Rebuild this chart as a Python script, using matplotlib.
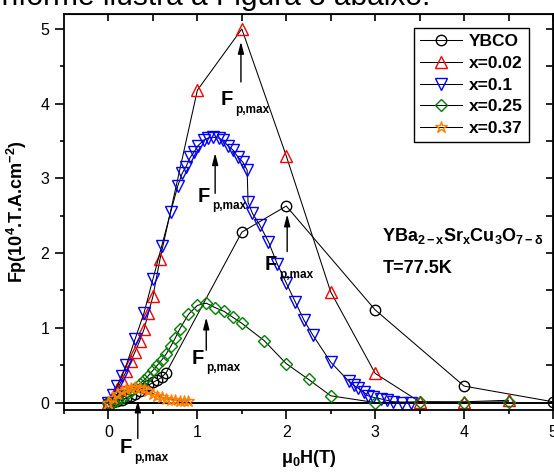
import numpy as np
import matplotlib
matplotlib.use("Agg")
import matplotlib.pyplot as plt
from matplotlib.ticker import MultipleLocator

plt.rcParams["font.family"] = ["Liberation Sans", "DejaVu Sans"]
plt.rcParams["mathtext.fontset"] = "custom"
plt.rcParams["mathtext.rm"] = "Liberation Sans"
plt.rcParams["mathtext.bf"] = "Liberation Sans:bold"
plt.rcParams["mathtext.it"] = "Liberation Sans:italic"

# ---- data (mu0H in T, Fp in 10^4 T.A.cm^-2) ----
ybco_h = [0, 0.05, 0.1, 0.15, 0.2, 0.25, 0.3, 0.35, 0.4, 0.45, 0.5, 0.55, 0.6, 0.65,
          1.5, 2.0, 3.0, 4.0, 5.0]
ybco_fp = [0, 0.01, 0.02, 0.04, 0.06, 0.09, 0.12, 0.15, 0.19, 0.23, 0.27, 0.30, 0.34, 0.40,
           2.28, 2.63, 1.24, 0.22, 0.01]

x002_h = [0, 0.05, 0.1, 0.15, 0.2, 0.25, 0.3, 0.35, 0.4, 0.45, 0.5, 0.58,
          1.0, 1.5, 2.0, 2.5, 3.0, 3.5, 4.0, 4.5]
x002_fp = [0, 0.08, 0.18, 0.3, 0.42, 0.55, 0.68, 0.82, 0.98, 1.2, 1.42, 1.92,
           4.18, 5.0, 3.30, 1.48, 0.39, 0.01, 0.01, 0.03]

x01_h = [0, 0.05, 0.1, 0.15, 0.2, 0.3, 0.4, 0.5, 0.6, 0.7, 0.78,
         0.83, 0.87, 0.92, 0.96, 1.01, 1.07, 1.12, 1.18, 1.24, 1.29, 1.34, 1.40, 1.46,
         1.51, 1.56, 1.57, 1.62, 1.7, 1.8, 1.9, 2.0, 2.1, 2.2, 2.3, 2.5,
         2.7, 2.76, 2.81, 2.87, 2.92, 2.98, 3.06, 3.13, 3.2, 3.3, 3.4]
x01_fp = [0, 0.1, 0.22, 0.35, 0.5, 0.85, 1.2, 1.65, 2.1, 2.55, 2.9,
          3.07, 3.15, 3.28, 3.35, 3.44, 3.51, 3.54, 3.55, 3.54, 3.51, 3.44, 3.38, 3.28,
          3.22, 3.11, 2.68, 2.53, 2.38, 2.15, 1.85, 1.6, 1.35, 1.1, 0.9, 0.54,
          0.29, 0.23, 0.19, 0.14, 0.09, 0.07, 0.05, 0.03, 0.01, 0.0, 0.0]

x025_h = [0, 0.05, 0.1, 0.15, 0.2, 0.25, 0.3, 0.35, 0.4, 0.45, 0.5, 0.55, 0.6, 0.65,
          0.7, 0.75, 0.8, 0.9, 1.0, 1.1, 1.2, 1.3, 1.4, 1.5, 1.75, 2.0, 2.25, 2.5,
          3.0, 3.5, 4.0, 4.5]
x025_fp = [0, 0.01, 0.03, 0.06, 0.1, 0.15, 0.2, 0.25, 0.3, 0.36, 0.43, 0.5, 0.57, 0.65,
           0.75, 0.86, 0.98, 1.18, 1.3, 1.33, 1.27, 1.22, 1.14, 1.06, 0.83, 0.52, 0.31, 0.09,
           0.0, 0.01, 0.0, 0.01]

x037_h = [0, 0.05, 0.1, 0.15, 0.2, 0.25, 0.3, 0.35, 0.4, 0.45, 0.5, 0.55, 0.6, 0.65,
          0.7, 0.75, 0.8, 0.85, 0.9]
x037_fp = [0, 0.06, 0.11, 0.15, 0.18, 0.2, 0.21, 0.2, 0.18, 0.15, 0.12, 0.09, 0.07, 0.05,
           0.04, 0.03, 0.02, 0.02, 0.02]

series = [
    ("YBCO", ybco_h, ybco_fp, "o", "black"),
    ("x=0.02", x002_h, x002_fp, "^", "#FF0000"),
    ("x=0.1", x01_h, x01_fp, "v", "#0000FF"),
    ("x=0.25", x025_h, x025_fp, "D", "#008000"),
    ("x=0.37", x037_h, x037_fp, "*", "#FF8000"),
]
msizes = {"o": 7.5, "^": 8, "v": 8, "D": 6.5, "*": 9}

# arrows: x, start y, tip y ; labels "F p,max": left x and baseline y of the F
arrow_x = [1.49, 1.20, 2.01, 1.10, 0.33]
arrow_y0 = [4.29, 2.80, 2.02, 0.70, -0.48]
arrow_y1 = [4.83, 3.34, 2.52, 1.14, 0.03]
flabel_x = [1.26, 1.00, 1.76, 0.94, 0.13]
flabel_y = [3.98, 2.69, 1.77, 0.52, -0.68]

fig = plt.figure(figsize=(5.54, 4.72), dpi=100)
ax = fig.add_axes([64 / 554, 62 / 472, 489 / 554, 396 / 472])

for name, h, fp, mk, col in series:
    ax.plot(h, fp, color="black", lw=0.75, marker=mk, ms=msizes[mk],
            mfc="none", mec=col, mew=1.0, label=name)

ax.axhline(0, color="black", lw=1.4, zorder=1)

ax.set_xlim(-0.5, 5.0)
ax.set_ylim(-0.1, 5.2)
ax.xaxis.set_major_locator(MultipleLocator(1))
ax.xaxis.set_minor_locator(MultipleLocator(0.5))
ax.yaxis.set_major_locator(MultipleLocator(1))
ax.yaxis.set_minor_locator(MultipleLocator(0.5))
ax.tick_params(which="major", direction="out", length=6.5, width=1.2, labelsize=11.5, pad=4)
ax.tick_params(which="minor", direction="out", length=3, width=1.2)
for s in ax.spines.values():
    s.set_linewidth(1.3)

top = ax.secondary_xaxis("top")
top.set_xticks(np.arange(0, 5.01, 0.5))
top.tick_params(direction="in", length=5, width=1.2, labeltop=False)
right = ax.secondary_yaxis("right")
right.set_yticks(np.arange(0, 5.01, 0.5))
right.tick_params(direction="in", length=5, width=1.2, labelright=False)

ax.set_xlabel("μ$_{\\mathbf{0}}$H(T)", fontsize=13, fontweight="bold", labelpad=6)
ax.set_ylabel("Fp(10$^{\\mathbf{4}}$.T.A.cm$^{\\mathbf{-2}}$)", fontsize=13,
              fontweight="bold", labelpad=8)

for xa, ya0, ya1 in zip(arrow_x, arrow_y0, arrow_y1):
    ax.annotate("", xy=(xa, ya1), xytext=(xa, ya0), annotation_clip=False,
                arrowprops=dict(arrowstyle="-|>,head_length=0.7,head_width=0.18",
                                color="black", lw=1.0, shrinkA=0, shrinkB=0))
for lx, ly in zip(flabel_x, flabel_y):
    ax.text(lx, ly, "F", fontsize=14.5, fontweight="bold", ha="left",
            va="baseline", clip_on=False)
    ax.annotate("p,max", xy=(lx, ly), xytext=(10.5, -5.5), textcoords="offset points",
                fontsize=8.5, fontweight="bold", ha="left", va="baseline",
                annotation_clip=False)

ax.text(3.08, 2.16, "YBa$_{\\mathbf{2-x}}$Sr$_{\\mathbf{x}}$Cu$_{\\mathbf{3}}$O$_{\\mathbf{7-δ}}$",
        fontsize=13, fontweight="bold", va="baseline")
ax.text(3.08, 1.74, "T=77.5K", fontsize=13, fontweight="bold", va="baseline")

leg = ax.legend(loc="upper right", bbox_to_anchor=(0.951, 0.965), fancybox=False,
                edgecolor="black", framealpha=1, prop={"weight": "bold", "size": 12.5},
                handlelength=2.4, labelspacing=0.38, borderpad=0.35, handletextpad=0.4,
                borderaxespad=0)
leg.get_frame().set_linewidth(1.0)

fig.text(430 / 554, 1 - 5 / 472, "conforme ilustra a Figura 3 abaixo:", ha="right",
         va="baseline", fontsize=21.5)

fig.savefig("out.png", dpi=100)
